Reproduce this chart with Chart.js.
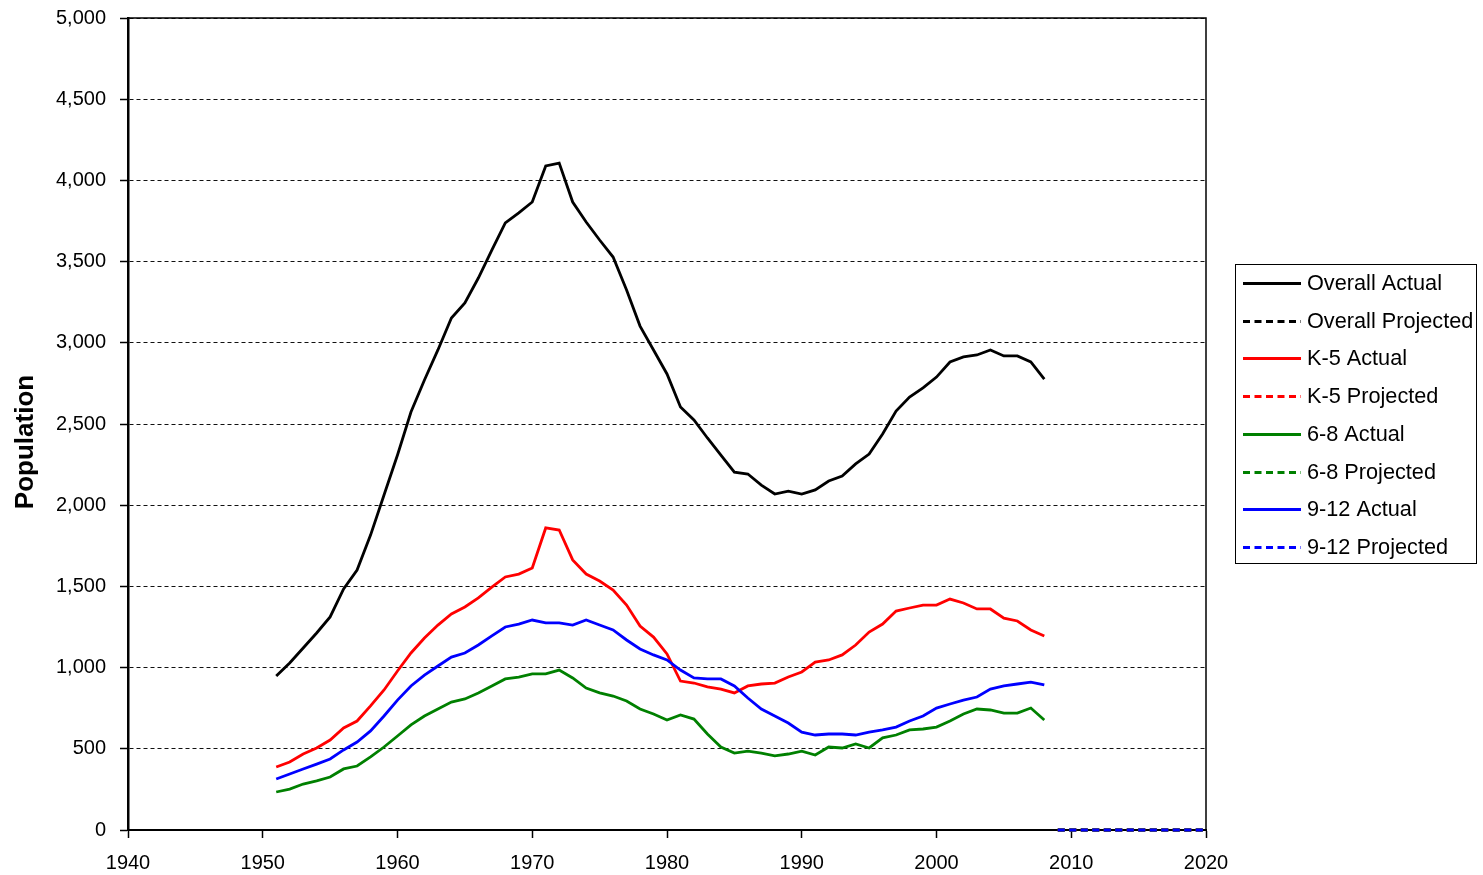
<!DOCTYPE html>
<html>
<head>
<meta charset="utf-8">
<script src="https://cdn.jsdelivr.net/npm/chart.js@4"></script>
<style>
  html, body { margin: 0; padding: 0; background: #fff; }
  #wrap { width: 1483px; height: 875px; }
</style>
</head>
<body>
<div id="wrap"><canvas id="c" width="1483" height="875"></canvas></div>
<script>
// ---- data ----
const years = [1951,1952,1953,1954,1955,1956,1957,1958,1959,1960,
  1961,1962,1963,1964,1965,1966,1967,1968,1969,1970,
  1971,1972,1973,1974,1975,1976,1977,1978,1979,1980,
  1981,1982,1983,1984,1985,1986,1987,1988,1989,1990,
  1991,1992,1993,1994,1995,1996,1997,1998,1999,2000,
  2001,2002,2003,2004,2005,2006,2007,2008];

const overallActual = [948,1028,1121,1213,1312,1484,1601,1816,2063,2309,
  2574,2771,2956,3153,3245,3399,3571,3738,3800,3867,
  4089,4107,3867,3744,3633,3528,3325,3103,2956,2808,
  2605,2525,2414,2309,2204,2192,2124,2069,2087,2069,
  2094,2149,2180,2254,2315,2438,2580,2666,2722,2789,
  2882,2913,2925,2956,2919,2919,2882,2777];

const k5Actual = [388,419,468,505,554,628,671,764,862,979,
  1090,1182,1262,1330,1373,1429,1496,1558,1576,1613,
  1860,1847,1663,1576,1533,1478,1385,1256,1188,1084,
  917,905,881,868,844,887,899,905,942,973,
  1034,1047,1078,1139,1219,1268,1348,1367,1385,1385,
  1422,1398,1361,1361,1305,1287,1232,1195];

const g68Actual = [234,252,283,302,326,376,394,450,511,579,
  647,702,745,788,807,844,887,930,942,961,
  961,985,936,874,844,825,794,745,714,677,
  708,683,591,511,474,486,474,456,468,486,
  462,511,505,530,505,567,585,616,622,634,
  671,714,745,739,720,720,751,677];

const g912Actual = [314,345,376,406,437,493,542,610,702,800,
  887,954,1010,1065,1090,1139,1195,1250,1268,1293,
  1275,1275,1262,1293,1262,1232,1170,1115,1078,1047,
  985,936,930,930,887,813,745,702,659,603,
  585,591,591,585,603,616,634,671,702,751,
  776,800,819,868,887,899,911,893];

const projYears = [2009,2010,2011,2012,2013,2014,2015,2016,2017,2018,2019,2020];
const overallProjected = [0,0,0,0,0,0,0,0,0,0,0,0];
const k5Projected      = [0,0,0,0,0,0,0,0,0,0,0,0];
const g68Projected     = [0,0,0,0,0,0,0,0,0,0,0,0];
const g912Projected    = [0,0,0,0,0,0,0,0,0,0,0,0];

const xTicks = [1940,1950,1960,1970,1980,1990,2000,2010,2020];
const yTicks = [0,500,1000,1500,2000,2500,3000,3500,4000,4500,5000];
const yTitle = 'Population';

// ---- helpers ----
const pts = (xs, ys) => xs.map((x, i) => ({ x: x, y: ys[i] }));
const DASH = [7, 4.5];
function ds(label, xs, ys, color, dashed, order) {
  return {
    label: label,
    data: pts(xs, ys),
    borderColor: color,
    backgroundColor: color,
    borderWidth: 2.8,
    borderDash: dashed ? DASH : [],
    pointRadius: 0,
    pointHoverRadius: 0,
    tension: 0,
    fill: false,
    clip: false,
    order: order
  };
}

const FONT = "'Liberation Sans', Arial, sans-serif";

const framePlugin = {
  id: 'frame',
  beforeDatasetsDraw(chart) {
    const { ctx, chartArea: a } = chart;
    ctx.save();
    ctx.strokeStyle = '#000';
    ctx.lineWidth = 1.5;
    ctx.beginPath();
    ctx.moveTo(a.left, a.top);
    ctx.lineTo(a.right, a.top);
    ctx.lineTo(a.right, a.bottom);
    ctx.stroke();
    ctx.restore();
  }
};

const titlePlugin = {
  id: 'yTitle',
  afterDraw(chart) {
    const ctx = chart.ctx;
    ctx.save();
    ctx.translate(33, 442);
    ctx.rotate(-Math.PI / 2);
    ctx.font = 'bold 26px ' + FONT;
    ctx.fillStyle = '#000';
    ctx.textAlign = 'center';
    ctx.textBaseline = 'alphabetic';
    ctx.fillText(yTitle, 0, 0);
    ctx.restore();
  }
};

const legendPlugin = {
  id: 'boxLegend',
  afterDraw(chart) {
    const ctx = chart.ctx;
    const bx = 1235.5, by = 264.5, bw = 241, bh = 299;
    ctx.save();
    ctx.fillStyle = '#fff';
    ctx.fillRect(bx, by, bw, bh);
    ctx.strokeStyle = '#000';
    ctx.lineWidth = 1;
    ctx.strokeRect(bx, by, bw, bh);
    const y0 = 283, step = 37.7;
    ctx.font = '21.7px ' + FONT;
    ctx.textBaseline = 'middle';
    ctx.textAlign = 'left';
    chart.data.datasets.forEach((d, i) => {
      const y = Math.round(y0 + i * step) + 0.5;
      ctx.strokeStyle = d.borderColor;
      ctx.lineWidth = 2.8;
      ctx.setLineDash(d.borderDash || []);
      ctx.beginPath();
      ctx.moveTo(1243, y);
      ctx.lineTo(1301, y);
      ctx.stroke();
      ctx.setLineDash([]);
      ctx.fillStyle = '#000';
      ctx.fillText(d.label, 1307, y + 1);
    });
    ctx.restore();
  }
};

new Chart(document.getElementById('c'), {
  type: 'line',
  data: {
    datasets: [
      ds('Overall Actual', years, overallActual, '#000000', false, 8),
      ds('Overall Projected', projYears, overallProjected, '#000000', true, 7),
      ds('K-5 Actual', years, k5Actual, '#ff0000', false, 6),
      ds('K-5 Projected', projYears, k5Projected, '#ff0000', true, 5),
      ds('6-8 Actual', years, g68Actual, '#008000', false, 4),
      ds('6-8 Projected', projYears, g68Projected, '#008000', true, 3),
      ds('9-12 Actual', years, g912Actual, '#0000ff', false, 2),
      ds('9-12 Projected', projYears, g912Projected, '#0000ff', true, 1)
    ]
  },
  options: {
    responsive: false,
    animation: false,
    events: [],
    layout: { padding: { top: 18, right: 277, left: 0, bottom: 0 } },
    plugins: {
      legend: { display: false },
      tooltip: { enabled: false },
      title: { display: false }
    },
    scales: {
      x: {
        type: 'linear',
        min: xTicks[0],
        max: xTicks[xTicks.length - 1],
        afterBuildTicks(scale) { scale.ticks = xTicks.map(v => ({ value: v })); },
        afterFit(scale) {
          scale.height = 45;
          scale.paddingLeft = 0; scale.paddingRight = 0;
        },
        ticks: {
          callback: v => String(v),
          color: '#000',
          font: { family: FONT, size: 20 },
          padding: 13,
          maxRotation: 0,
          autoSkip: false
        },
        grid: {
          drawOnChartArea: false,
          drawTicks: true,
          tickLength: 8,
          tickColor: '#000',
          tickWidth: 1.5,
          color: '#000'
        },
        border: { display: true, color: '#000', width: 2 }
      },
      y: {
        type: 'linear',
        min: yTicks[0],
        max: yTicks[yTicks.length - 1],
        afterBuildTicks(scale) { scale.ticks = yTicks.map(v => ({ value: v })); },
        afterFit(scale) {
          scale.width = 128;
          scale.paddingTop = 0; scale.paddingBottom = 0;
        },
        ticks: {
          callback: v => Number(v).toLocaleString('en-US'),
          color: '#000',
          font: { family: FONT, size: 20 },
          padding: 14,
          autoSkip: false
        },
        grid: {
          drawOnChartArea: true,
          drawTicks: true,
          tickLength: 8,
          color: '#111',
          lineWidth: 1,
          tickColor: '#000',
          tickWidth: 1.5,
          tickBorderDash: []
        },
        border: { display: true, color: '#000', width: 2.5, dash: [4, 3] },
        title: { display: false }
      }
    }
  },
  plugins: [framePlugin, titlePlugin, legendPlugin]
});
</script>
</body>
</html>
